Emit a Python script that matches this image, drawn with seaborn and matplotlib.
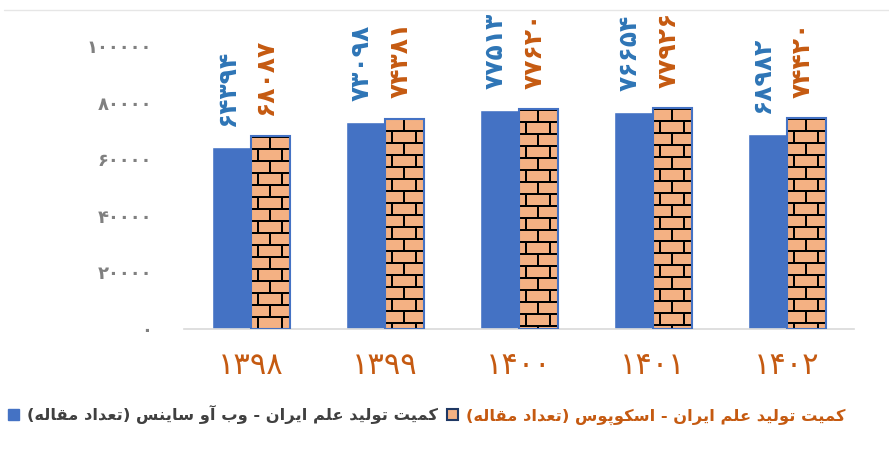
import numpy as np
import pandas as pd
import matplotlib.pyplot as plt
import seaborn as sns
from matplotlib.patches import Patch

years = ['1398', '1399', '1400', '1401', '1402']
wos = [64394, 73098, 77513, 76654, 68982]
scopus = [68087, 74381, 77620, 77926, 74420]
yticks = [0, 20000, 40000, 60000, 80000, 100000]
label_wos = 'کمیت تولید علم ایران - وب آو ساینس (تعداد مقاله)'
label_scopus = 'کمیت تولید علم ایران - اسکوپوس (تعداد مقاله)'

BLUE = '#4472c4'
BRICK = '#f4b183'
ORANGE_TXT = '#c55a11'
BLUE_TXT = '#2e75b6'
GRAY = '#808080'

# contextual forms: isolated, final, initial, medial
FORMS = {
    'ا': ('\uFE8D', '\uFE8E', None, None),
    'آ': ('\uFE81', '\uFE82', None, None),
    'ب': ('\uFE8F', '\uFE90', '\uFE91', '\uFE92'),
    'پ': ('\uFB56', '\uFB57', '\uFB58', '\uFB59'),
    'ت': ('\uFE95', '\uFE96', '\uFE97', '\uFE98'),
    'د': ('\uFEA9', '\uFEAA', None, None),
    'ر': ('\uFEAD', '\uFEAE', None, None),
    'س': ('\uFEB1', '\uFEB2', '\uFEB3', '\uFEB4'),
    'ع': ('\uFEC9', '\uFECA', '\uFECB', '\uFECC'),
    'ق': ('\uFED5', '\uFED6', '\uFED7', '\uFED8'),
    'ک': ('\uFB8E', '\uFB8F', '\uFB90', '\uFB91'),
    'ل': ('\uFEDD', '\uFEDE', '\uFEDF', '\uFEE0'),
    'م': ('\uFEE1', '\uFEE2', '\uFEE3', '\uFEE4'),
    'ن': ('\uFEE5', '\uFEE6', '\uFEE7', '\uFEE8'),
    'ه': ('\uFEE9', '\uFEEA', '\uFEEB', '\uFEEC'),
    'و': ('\uFEED', '\uFEEE', None, None),
    'ی': ('\uFBFC', '\uFBFD', '\uFBFE', '\uFBFF'),
}


def shape_fa(s):
    out = []
    for i, c in enumerate(s):
        if c not in FORMS:
            out.append(c)
            continue
        iso, fin, ini, med = FORMS[c]
        prev = s[i - 1] if i > 0 else ''
        nxt = s[i + 1] if i + 1 < len(s) else ''
        jp = prev in FORMS and FORMS[prev][2] is not None
        jn = nxt in FORMS and ini is not None
        out.append(med if jp and jn else fin if jp else ini if jn else iso)
    mirror = {'(': ')', ')': '('}
    return ''.join(mirror.get(c, c) for c in reversed(out))


def fa_num(n):
    return str(n).translate(str.maketrans('0123456789', '۰۱۲۳۴۵۶۷۸۹'))


df = pd.DataFrame({
    'year': years * 2,
    'value': wos + scopus,
    'src': ['wos'] * len(years) + ['scopus'] * len(years),
})

sns.set_style('white')
plt.rcParams['font.family'] = ['DejaVu Sans']

fig = plt.figure(figsize=(8.89, 4.61), dpi=100)
ax = fig.add_axes([0.207, 0.2863, 0.7536, 0.6139])
sns.barplot(data=df, x='year', y='value', hue='src', palette=[BLUE, BLUE],
            width=0.58, ax=ax, legend=False, saturation=1)

ax.set_ylim(0, 100000)
ax.set_xlim(-0.5, 4.5)
ax.set_yticks(yticks)
ax.set_yticklabels([fa_num(v) for v in yticks], color=GRAY, fontsize=13,
                   fontweight='bold')
ax.set_xticks(range(len(years)))
ax.set_xticklabels([fa_num(y) for y in years], color=ORANGE_TXT, fontsize=22)
ax.tick_params(axis='y', length=0, pad=23)
ax.tick_params(axis='x', length=0, pad=16)
ax.set_xlabel('')
ax.set_ylabel('')
for s in ['left', 'right', 'top']:
    ax.spines[s].set_visible(False)
ax.spines['bottom'].set_color('#d9d9d9')
ax.spines['bottom'].set_linewidth(1.2)

# brick texture for scopus bars
fig.canvas.draw()
bars_s = ax.containers[1]
for p in bars_s:
    p.set_facecolor('none')
    p.set_edgecolor(BLUE)
    p.set_linewidth(1.5)
    p.set_zorder(3)
    bb = p.get_window_extent()
    w, h = int(round(bb.width)), int(round(bb.height))
    yy, xx = np.mgrid[0:h, 0:w]
    row = yy // 12
    mortar_h = (yy % 12) < 2
    mortar_v = ((xx + 6 + (row % 2) * 12) % 24) < 2
    img = np.ones((h, w, 3)) * np.array([0xf4, 0xb1, 0x83]) / 255
    img[mortar_h | mortar_v] = 0
    x0, y0 = p.get_x(), p.get_y()
    ax.imshow(img, extent=(x0, x0 + p.get_width(), y0, y0 + p.get_height()),
              origin='upper', interpolation='nearest', aspect='auto',
              clip_path=p, zorder=2)
ax.set_xlim(-0.5, 4.5)
ax.set_ylim(0, 100000)

# vertical value labels
for cont, vals, col in [(ax.containers[0], wos, BLUE_TXT),
                        (ax.containers[1], scopus, ORANGE_TXT)]:
    for p, v in zip(cont, vals):
        ax.annotate(fa_num(v), (p.get_x() + p.get_width() / 2, v),
                    xytext=(-3, 15), textcoords='offset points',
                    rotation=90, ha='center', va='bottom', color=col,
                    fontsize=18, fontweight='bold', annotation_clip=False)

handles = [Patch(facecolor=BLUE, edgecolor=BLUE),
           Patch(facecolor=BRICK, edgecolor='#1f3864', linewidth=1.5)]
leg = fig.legend(handles, [shape_fa(label_wos), shape_fa(label_scopus)],
                 loc='center', bbox_to_anchor=(0.48, 0.1), ncol=2,
                 frameon=False, handlelength=0.7, handleheight=0.7,
                 handletextpad=0.5, columnspacing=0.5,
                 prop={'size': 11.7, 'weight': 'bold'})
for t, c in zip(leg.get_texts(), ['#404040', ORANGE_TXT]):
    t.set_color(c)

fig.add_artist(plt.Line2D([0.005, 1.0], [0.978, 0.978],
                          color='#e6e6e6', linewidth=1))

fig.savefig('out.png', dpi=100)
